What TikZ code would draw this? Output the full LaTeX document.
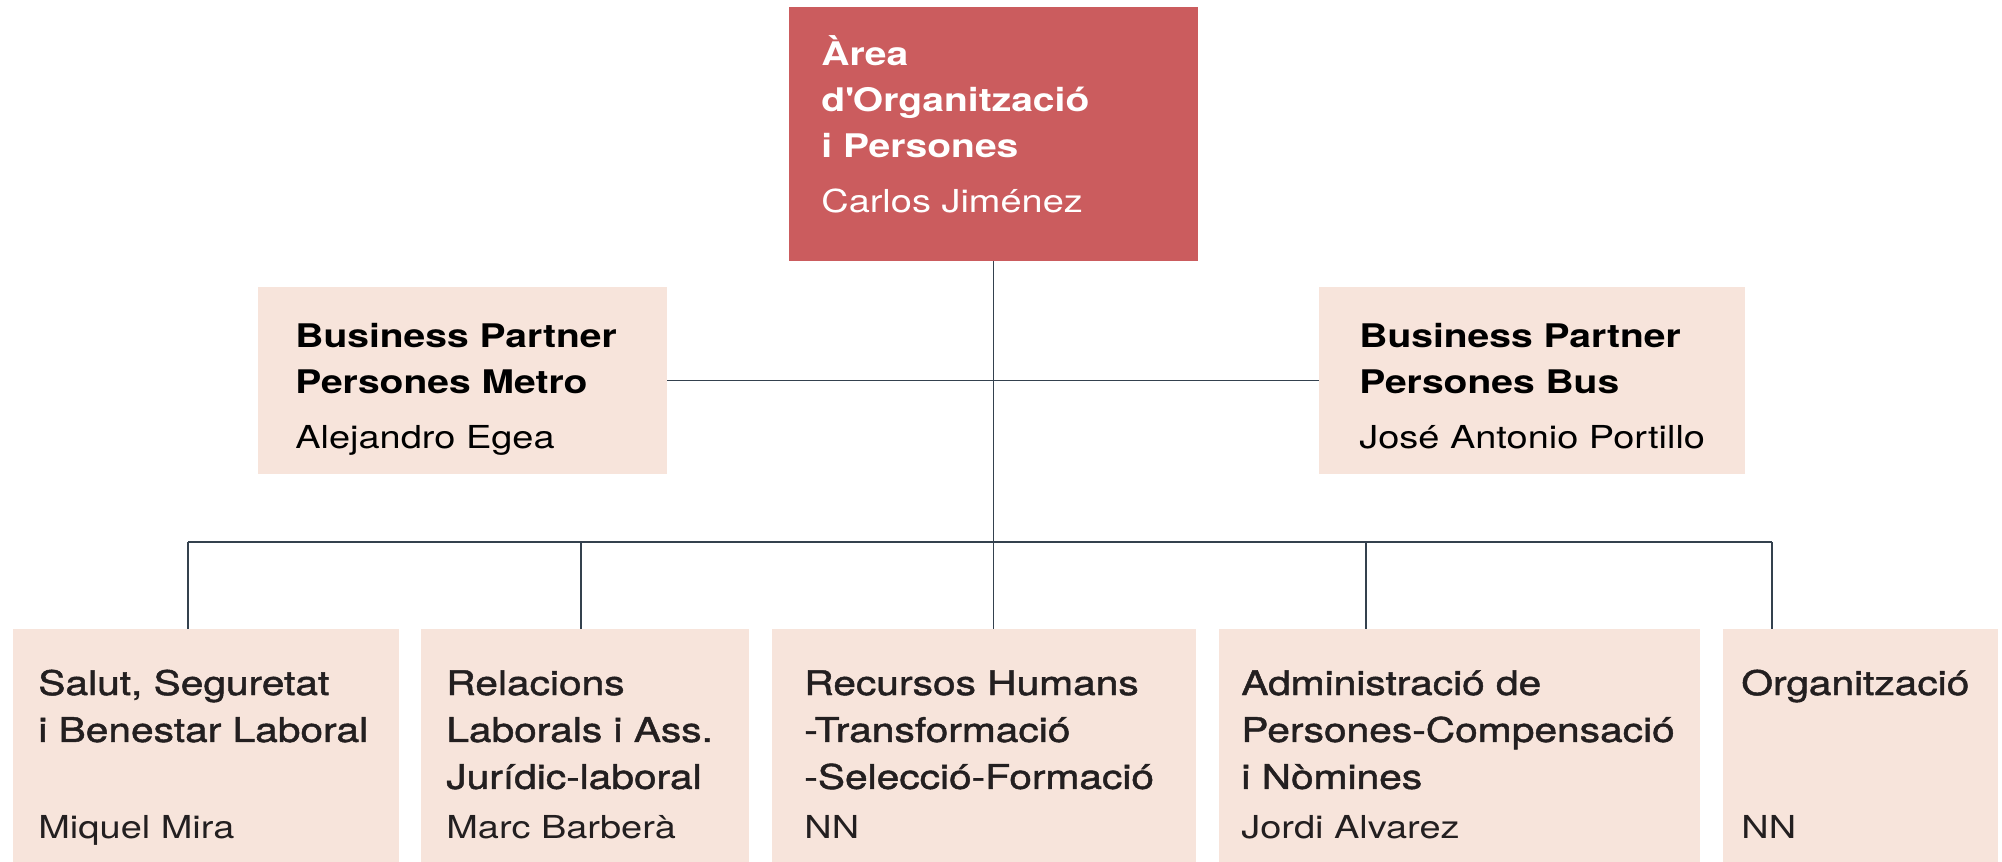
\documentclass[tikz,border=0pt]{standalone}
\usepackage{fontspec}
\setmainfont{TeX Gyre Heros}[FakeStretch=1.2]
\newfontfamily\medfont{TeX Gyre Heros}[FakeStretch=1.2,FakeBold=1.4]
\usetikzlibrary{fit}

\definecolor{areared}{HTML}{CB5C5E}
\definecolor{partnerbg}{HTML}{F7E4DB}
\definecolor{linkgray}{HTML}{34414E}
\definecolor{textdark}{HTML}{231F20}

\tikzset{
  box/.style={fill=partnerbg, inner sep=0pt},
  headbox/.style={fill=areared, inner sep=0pt},
  link/.style={draw=linkgray, line width=0.8pt},
  boxtitle/.style={anchor=base west, inner sep=0pt, text width=10cm, align=left,
    font=\fontsize{18.5}{26.2}\selectfont\bfseries},
  unittitle/.style={anchor=base west, inner sep=0pt, text width=10cm, align=left,
    text=textdark, font=\fontsize{19.3}{26.7}\selectfont\medfont},
  person/.style={anchor=base west, inner sep=0pt, font=\fontsize{18}{22}\selectfont},
}

\begin{document}
\begin{tikzpicture}[x=0.02cm, y=-0.02cm]
    \useasboundingbox (0,0) rectangle (2002,862);
    % Draw boxes
    \node[headbox, fit={(789,7) (1198,261)}] (area) {};
    \node[box, fit={(258,287) (667,474)}] (metro) {};
    \node[box, fit={(1319,287) (1745,474)}] (bus) {};
    \foreach \n/\xa/\xb in {salut/13/399, relacions/421/749, rrhh/772/1196, admin/1219/1700, organitzacio/1723/1998} {
        \node[box, fit={(\xa,629) (\xb,862)}] (\n) {};
    }
    % Draw lines
    \draw[link] (area.south) -- (area.south |- rrhh.north);
    \draw[link] (metro.east) -- (bus.west);
    \coordinate (busl) at (188,542);
    \coordinate (busr) at (1772,542);
    \draw[link] (busl) -- (busr);
    \foreach \n/\x in {salut/188, relacions/581, admin/1366, organitzacio/1772} {
        \coordinate (j-\n) at (\x,542);
        \draw[link] (j-\n) -- (j-\n |- \n.north);
    }
    % Head and partners
    \node[boxtitle, text=white] (area-t) at (821,65) {Àrea\\d\textquotesingle Organització\\i Persones};
    \node[person, text=white] (area-n) at (821,212) {Carlos Jiménez};
    \node[boxtitle] (metro-t) at (295,347) {Business Partner\\Persones Metro};
    \node[person] (metro-n) at (295,448) {Alejandro Egea};
    \node[boxtitle] (bus-t) at (1359,347) {Business Partner\\Persones Bus};
    \node[person] (bus-n) at (1359,448) {José Antonio Portillo};
    % Units
    \foreach \n/\x/\ttl/\who in {salut/38/{Salut, Seguretat\\i Benestar Laboral}/Miquel Mira,
        relacions/446/{Relacions\\Laborals i Ass.\\Jurídic-laboral}/Marc Barberà,
        rrhh/804/{Recursos Humans\\-Transformació\\-Selecció-Formació}/NN,
        admin/1241/{Administració de\\Persones-Compensació\\i Nòmines}/Jordi Alvarez,
        organitzacio/1741/{Organització}/NN} {
        \node[unittitle] (\n-t) at (\x,695) {\ttl};
        \node[person, text=textdark] (\n-n) at (\x,838) {\who};
    }
\end{tikzpicture}
\end{document}
